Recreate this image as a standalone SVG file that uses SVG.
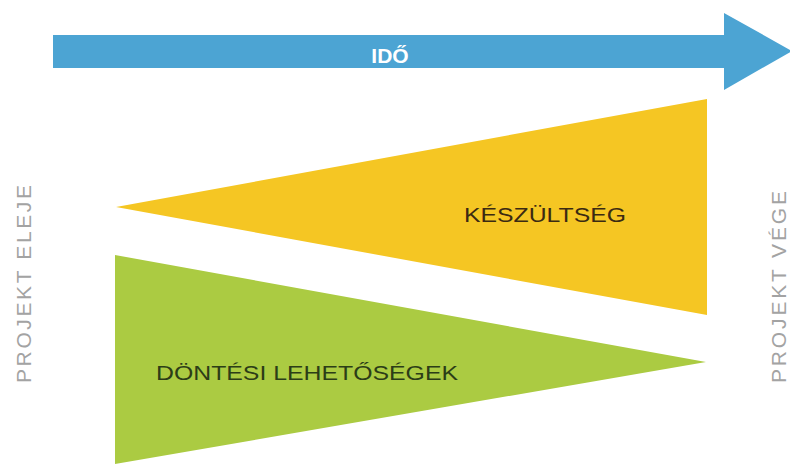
<svg xmlns="http://www.w3.org/2000/svg" width="790" height="464" viewBox="0 0 790 464">
<style>
.lbl{font-family:"Liberation Sans","DejaVu Sans",sans-serif;}
.side{font-family:"Liberation Sans","DejaVu Sans",sans-serif;font-size:21px;fill:#a3a3a3;}
</style>
<rect width="790" height="464" fill="#ffffff"/>
<g id="ido">
<polygon points="53,35 724,35 724,13 792,51 724,90 724,68 53,68" fill="#4ca4d3"/>
<text class="lbl" x="390" y="63" text-anchor="middle" font-size="21" font-weight="bold" fill="#ffffff">IDŐ</text>
</g>
<g id="keszultseg">
<polygon points="116,207 707,99 707,315" fill="#f5c623"/>
<text class="lbl" x="464" y="222" font-size="20" fill="#3b2a12" textLength="162" lengthAdjust="spacingAndGlyphs">KÉSZÜLTSÉG</text>
</g>
<g id="dontesi">
<polygon points="115,255 706,362 115,464" fill="#abcb42"/>
<text class="lbl" x="156" y="380" font-size="20" fill="#2c3d17" textLength="302" lengthAdjust="spacingAndGlyphs">DÖNTÉSI LEHETŐSÉGEK</text>
</g>
<g id="projekt-eleje">
<text class="side" transform="translate(31,383) rotate(-90)" textLength="198" lengthAdjust="spacing">PROJEKT ELEJE</text>
</g>
<g id="projekt-vege">
<text class="side" transform="translate(786,383) rotate(-90)" textLength="192" lengthAdjust="spacing">PROJEKT VÉGE</text>
</g>
<g id="connectors"></g>
</svg>
